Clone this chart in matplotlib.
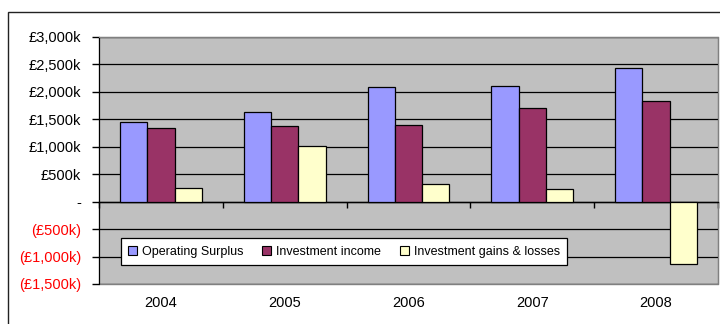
import matplotlib.pyplot as plt
import matplotlib.transforms as mtransforms
from matplotlib.patches import Rectangle
import numpy as np

plt.rcParams['font.family'] = ['Liberation Sans', 'DejaVu Sans']

years = ['2004', '2005', '2006', '2007', '2008']
operating_surplus = [1450, 1625, 2085, 2110, 2430]   # £k
investment_income = [1350, 1370, 1390, 1715, 1830]
investment_gains = [250, 1020, 320, 235, -1135]

series_names = ['Operating Surplus', 'Investment income', 'Investment gains & losses']
colors = ['#9999FF', '#993366', '#FFFFCC']
yticks = [-1500, -1000, -500, 0, 500, 1000, 1500, 2000, 2500, 3000]


def fmt(v):
    if v == 0:
        return '-'
    if v < 0:
        return '(£{:,}k)'.format(-v)
    return '£{:,}k'.format(v)


fig = plt.figure(figsize=(7.2, 3.24), dpi=100)
# outer chart frame (cropped on the right and bottom)
fig.patches.append(Rectangle((8 / 720, -0.1), 1.2, 1 - 12 / 324 + 0.1, transform=fig.transFigure,
                             fill=False, edgecolor='#222222', lw=1.0))
ax = fig.add_axes([99 / 720, 1 - 284 / 324, 619 / 720, 247 / 324])
ax.set_facecolor('#C0C0C0')

x = np.arange(len(years)) + 0.5
w = 0.22
for k, vals in enumerate([operating_surplus, investment_income, investment_gains]):
    ax.bar(x + (k - 1) * w, vals, width=w, color=colors[k], edgecolor='black', lw=0.9,
           label=series_names[k], zorder=3)

ax.set_xlim(0, len(years))
ax.set_ylim(-1500, 3000)
ax.set_yticks(yticks)
ax.set_yticklabels([fmt(v) for v in yticks], fontsize=10.5)
for lab, v in zip(ax.get_yticklabels(), yticks):
    lab.set_color('#FF0000' if v < 0 else 'black')
ax.tick_params(axis='y', direction='out', length=5, width=1, pad=8)
ax.grid(axis='y', color='black', lw=0.9, zorder=1)

# category axis sits at zero
ax.spines['bottom'].set_position(('data', 0))
ax.spines['bottom'].set_color('black')
ax.spines['bottom'].set_linewidth(1)
ax.set_xticks(np.arange(len(years) + 1))
ax.set_xticklabels([])
ax.tick_params(axis='x', direction='out', length=4, width=1)
for s in ['top', 'right']:
    ax.spines[s].set_color('#808080')
ax.spines['left'].set_color('black')
ax.add_patch(Rectangle((0, 0), 1, 1, transform=ax.transAxes, fill=False,
                       edgecolor='#808080', lw=1, clip_on=False, zorder=0.5))

trans = mtransforms.blended_transform_factory(ax.transData, ax.transAxes)
for xi, yr in zip(x, years):
    ax.text(xi, -0.077, yr, transform=trans, ha='center', va='center', fontsize=10.5)

leg = ax.legend(loc='center', bbox_to_anchor=(0.396, 0.13), ncol=3, fontsize=9,
                frameon=True, fancybox=False, edgecolor='black', framealpha=1,
                handlelength=0.7, handleheight=0.7, handletextpad=0.4,
                columnspacing=1.5, borderpad=0.6)
leg.get_frame().set_linewidth(0.9)
leg.set_zorder(5)
for h in leg.legend_handles:
    h.set_linewidth(0.8)

fig.savefig('out.png', dpi=100)
